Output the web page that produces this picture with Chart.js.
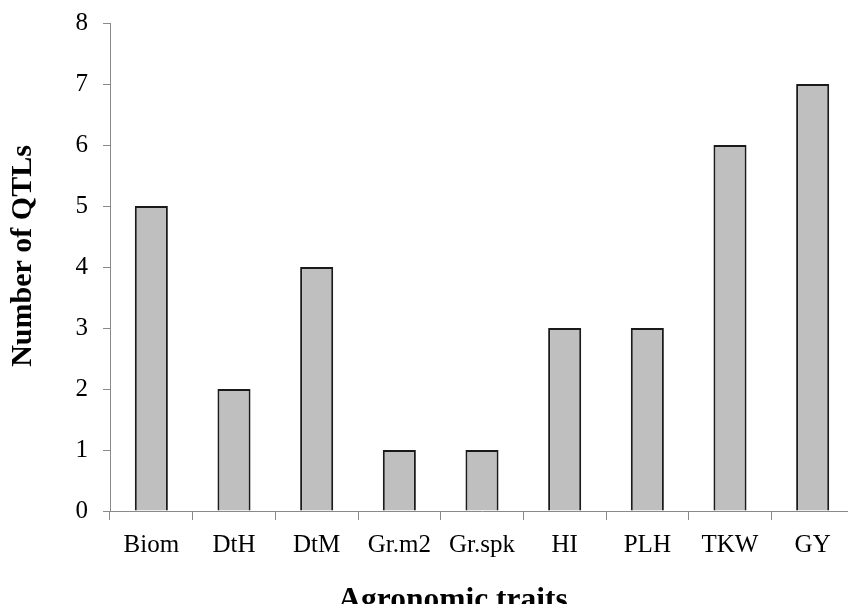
<!DOCTYPE html>
<html>
<head>
<meta charset="utf-8">
<script src="https://cdn.jsdelivr.net/npm/chart.js@4"></script>
<style>
  html, body { margin: 0; padding: 0; background: #fff; overflow: hidden; }
  #wrap { width: 906px; height: 604px; }
</style>
</head>
<body>
<div id="wrap"><canvas id="qtl"></canvas></div>
<script>
// dados
var traits = ['Biom', 'DtH', 'DtM', 'Gr.m2', 'Gr.spk', 'HI', 'PLH', 'TKW', 'GY'];
var qtlCount = [5, 2, 4, 1, 1, 3, 3, 6, 7];
var yTicks = [0, 1, 2, 3, 4, 5, 6, 7, 8];

var serif = 'Liberation Serif, Times New Roman, serif';
var axisGrey = '#898989';

// título do eixo Y desenhado à mão (centro deslocado como no original)
var yTitle = {
    id: 'yTitle',
    afterDraw: function (chart) {
        var ctx = chart.ctx;
        ctx.save();
        ctx.translate(23, 256);
        ctx.rotate(-Math.PI / 2);
        ctx.font = 'bold 30px ' + serif;
        ctx.fillStyle = '#000';
        ctx.textAlign = 'center';
        ctx.textBaseline = 'middle';
        ctx.fillText('Number of QTLs', 0, 0);
        ctx.restore();
    }
};

var ctx = document.getElementById('qtl');
var chart = new Chart(ctx, {
    type: 'bar',
    data: {
        labels: traits,
        datasets: [{
            label: 'QTLs',
            data: qtlCount,
            backgroundColor: '#bfbfbf',
            borderColor: '#1a1a1a',
            borderWidth: 2,
            barPercentage: 0.4,
            categoryPercentage: 1
        }]
    },
    options: {
        responsive: true,
        maintainAspectRatio: false,
        animation: false,
        layout: {
            padding: { top: 23, left: 52, right: 52, bottom: 0 }
        },
        plugins: {
            legend: { display: false },
            tooltip: { enabled: false },
            title: {
                display: true,
                position: 'bottom',
                text: 'Agronomic traits',
                color: '#000',
                font: { family: serif, size: 31.5, weight: 'bold', lineHeight: 0.17 },
                padding: { top: 0, bottom: 0 }
            }
        },
        scales: {
            x: {
                offset: true,
                grid: {
                    offset: true,
                    drawOnChartArea: false,
                    color: axisGrey,
                    tickLength: 9,
                    tickColor: axisGrey
                },
                border: { color: axisGrey, width: 1 },
                ticks: {
                    color: '#000',
                    padding: 10,
                    maxRotation: 0,
                    font: { family: serif, size: 25 }
                },
                afterFit: function (scale) { scale.height = 87.6; }
            },
            y: {
                min: 0,
                max: 8,
                afterBuildTicks: function (scale) {
                    scale.ticks = yTicks.map(function (v) { return { value: v }; });
                },
                grid: {
                    drawOnChartArea: false,
                    color: axisGrey,
                    tickLength: 7,
                    tickColor: axisGrey
                },
                border: { color: axisGrey, width: 1 },
                ticks: {
                    color: '#000',
                    padding: 15,
                    font: { family: serif, size: 25 }
                },
                afterFit: function (scale) {
                    scale.width = 58;
                    scale.paddingTop = 0;
                    scale.paddingBottom = 0;
                }
            }
        }
    },
    plugins: [yTitle]
});
</script>
</body>
</html>
